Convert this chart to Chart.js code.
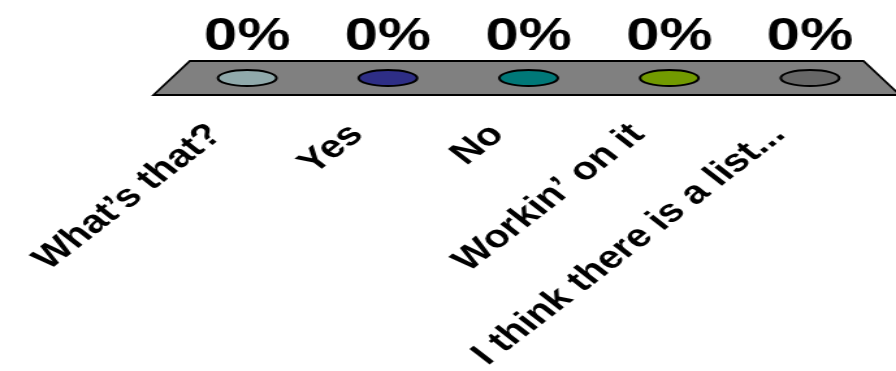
<!DOCTYPE html>
<html>
<head>
<meta charset="utf-8">
<script src="https://cdn.jsdelivr.net/npm/chart.js@4"></script>
<style>
  html, body { margin: 0; padding: 0; background: #fff; overflow: hidden; }
  #chart { display: block; }
</style>
</head>
<body>
<!-- the reference is stretched sideways, so the canvas is drawn narrow and widened by CSS -->
<canvas id="chart" width="689" height="371" style="width: 896px; height: 371px;"></canvas>
<script>
const categories = ['What\u2019s that?', 'Yes', 'No', 'Workin\u2019 on it', 'I think there is a list...'];
const responses = [0, 0, 0, 0, 0];
const barColors = ['#90a9ab', '#2e2e86', '#007878', '#729a00', '#666666'];

const FONT = 'Arial, "Liberation Sans", Helvetica, sans-serif';

// gray 3D-ish floor under the bars
const floorPlugin = {
    id: 'floor',
    beforeDatasetsDraw(chart) {
        const { ctx, chartArea, scales } = chart;
        const y0 = scales.y.getPixelForValue(0);
        const left = chartArea.left - 4;
        const right = chartArea.right + 1;
        const dx = 14, dy = 17;
        ctx.save();
        ctx.beginPath();
        ctx.moveTo(left + dx, y0 - dy);
        ctx.lineTo(right - dx, y0 - dy);
        ctx.lineTo(right + dx, y0 + dy);
        ctx.lineTo(left - dx, y0 + dy);
        ctx.closePath();
        ctx.fillStyle = '#808080';
        ctx.fill();
        ctx.lineWidth = 1.8;
        ctx.strokeStyle = '#000';
        ctx.stroke();
        ctx.restore();
    }
};

// zero-height bars show only their round base, plus the percent label above
const baseAndLabels = {
    id: 'baseAndLabels',
    afterDatasetsDraw(chart) {
        const { ctx, scales } = chart;
        const meta = chart.getDatasetMeta(0);
        const y0 = scales.y.getPixelForValue(0);
        ctx.save();
        meta.data.forEach((bar, i) => {
            ctx.beginPath();
            ctx.ellipse(bar.x, y0, 22.5, 8, 0, 0, Math.PI * 2);
            ctx.fillStyle = barColors[i];
            ctx.fill();
            ctx.lineWidth = 2;
            ctx.strokeStyle = '#000';
            ctx.stroke();

            ctx.fillStyle = '#000';
            ctx.font = 'bold 46px ' + FONT;
            ctx.textAlign = 'center';
            ctx.textBaseline = 'alphabetic';
            ctx.fillText(responses[i] + '%', bar.x, y0 - 28);
        });
        ctx.restore();
    }
};

new Chart(document.getElementById('chart'), {
    type: 'bar',
    data: {
        labels: categories,
        datasets: [{
            data: responses,
            backgroundColor: barColors,
            borderWidth: 0
        }]
    },
    options: {
        responsive: false,
        animation: false,
        layout: { padding: { left: 136, right: 10, top: 0, bottom: 0 } },
        plugins: {
            legend: { display: false },
            tooltip: { enabled: false }
        },
        scales: {
            x: {
                grid: { display: false, drawTicks: false },
                border: { display: false },
                ticks: {
                    autoSkip: false,
                    minRotation: 45,
                    maxRotation: 45,
                    padding: 38,
                    labelOffset: -24,
                    color: '#000',
                    font: { family: FONT, size: 32, weight: 'bold' }
                },
                afterFit(scale) {
                    scale.height = 293;
                }
            },
            y: {
                display: false,
                min: 0,
                max: 1
            }
        }
    },
    plugins: [floorPlugin, baseAndLabels]
});
</script>
</body>
</html>
